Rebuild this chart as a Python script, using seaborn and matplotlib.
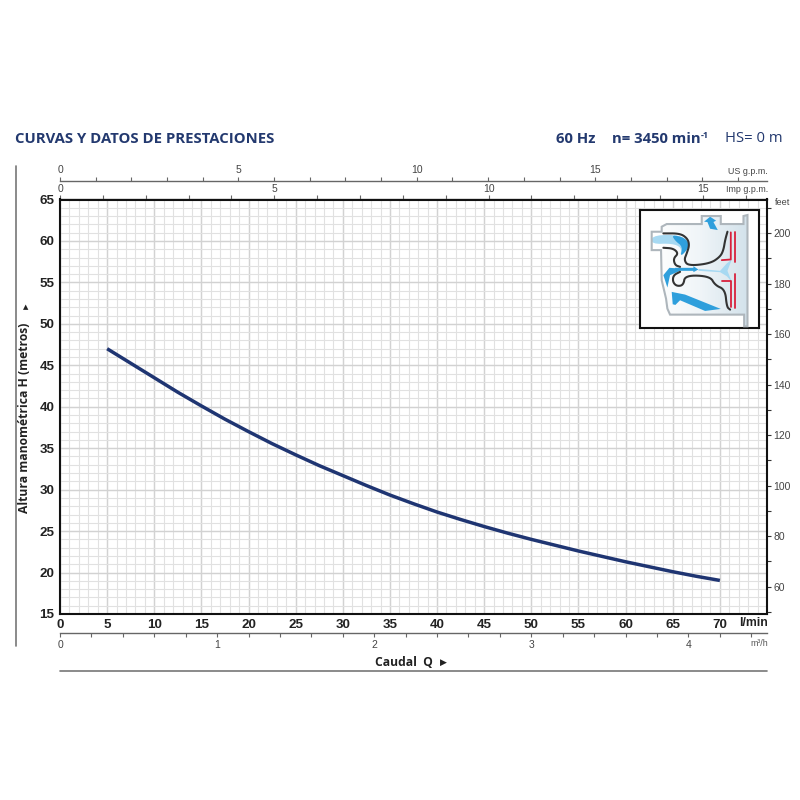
import matplotlib
matplotlib.use("Agg")
import numpy as np
import pandas as pd
import seaborn as sns
import matplotlib.pyplot as plt
from matplotlib.patches import Polygon
from matplotlib.ticker import MultipleLocator

# ---- data
caudal_lmin = [5, 7.5, 10, 12.5, 15, 17.5, 20, 22.5, 25, 27.5, 30, 32.5, 35, 37.5, 40, 42.5, 45, 47.5, 50, 52.5, 55, 57.5, 60, 62.5, 65, 67.5, 70]
altura_m = [47.0, 45.25, 43.5, 41.75, 40.1, 38.5, 37.0, 35.55, 34.2, 32.9, 31.7, 30.5, 29.35, 28.3, 27.3, 26.4, 25.55, 24.75, 24.0, 23.3, 22.6, 21.95, 21.3, 20.7, 20.1, 19.55, 19.05]
x_ticks = list(range(0, 75, 5))
y_ticks = list(range(15, 70, 5))
us_gpm_labels = [0, 5, 10, 15]
imp_gpm_labels = [0, 5, 10, 15]
m3h_labels = [0, 1, 2, 3, 4]
feet_labels = list(range(60, 220, 20))

NAVY = "#1f3572"
TITLE = "#23396f"
GREY = "#666666"
NARROW = ["Liberation Sans", "DejaVu Sans"]
HUM = ["Open Sans", "DejaVu Sans"]

sns.set_theme(style="white")
plt.rcParams["font.family"] = NARROW

fig = plt.figure(figsize=(8, 8), dpi=100, facecolor="white")
def fx(p): return p / 800
def fy(p): return 1 - p / 800

L, R, T, B = 60, 767, 199.5, 614
ax = fig.add_axes([fx(L), fy(B), fx(R - L), (B - T) / 800])
df = pd.DataFrame({"q": caudal_lmin, "h": altura_m})
sns.lineplot(data=df, x="q", y="h", ax=ax, color=NAVY, lw=2.5, solid_capstyle="butt", zorder=5)

ax.set_xlim(0, 75)
ax.set_ylim(15, 65)
ax.set_xlabel("")
ax.set_ylabel("")
ax.set_xticks(x_ticks)
ax.set_yticks(y_ticks)
ax.xaxis.set_minor_locator(MultipleLocator(1))
ax.yaxis.set_minor_locator(MultipleLocator(1))
ax.set_axisbelow(True)
ax.grid(which="minor", color="#e1e1e1", lw=0.8)
ax.grid(which="major", color="#d2d2d2", lw=1.05)
ax.tick_params(which="both", length=0)
ax.tick_params(axis="x", pad=3.5, labelsize=9.6, labelcolor="#222222")
ax.tick_params(axis="y", pad=4, labelsize=9.6, labelcolor="#222222")
for t in ax.get_xticklabels() + ax.get_yticklabels():
    t.set_fontweight("bold")
for s in ax.spines.values():
    s.set_color("#111111")
    s.set_linewidth(1.5)

# secondary flow scales, above and below the plot
us = ax.secondary_xaxis((B - 180.7) / (B - T), functions=(lambda v: v / 3.785, lambda v: v * 3.785))
imp = ax.secondary_xaxis("top", functions=(lambda v: v / 4.546, lambda v: v * 4.546))
m3h = ax.secondary_xaxis((B - 633) / (B - T), functions=(lambda v: v * 0.06, lambda v: v / 0.06))

us.set_xticks(np.arange(0, 20), labels=[str(i) if i in us_gpm_labels else "" for i in range(20)])
imp.set_xticks(np.arange(0, 17), labels=[str(i) if i in imp_gpm_labels else "" for i in range(17)])
m3h_pos = np.arange(0, 23) * 0.2
m3h.set_xticks(m3h_pos, labels=[str(int(round(v))) if abs(v - round(v)) < 1e-6 and int(round(v)) in m3h_labels else "" for v in m3h_pos])

for sec, pad in ((us, 1.0), (imp, 1.0), (m3h, 2.0)):
    sec.tick_params(axis="x", length=3, width=0.8, color=GREY, labelsize=7.5, labelcolor="#444444", pad=pad)
    for s in sec.spines.values():
        s.set_color(GREY)
        s.set_linewidth(1.0)

# feet axis, right
ft = ax.secondary_yaxis("right", functions=(lambda v: v * 3.28084, lambda v: v / 3.28084))
ft_pos = np.arange(50, 220, 10)
ft.set_yticks(ft_pos, labels=[str(v) if v in feet_labels else "" for v in ft_pos])
ft.tick_params(axis="y", length=3, width=0.8, color="#333333", labelsize=7.5, labelcolor="#444444", pad=1.5)
ft.spines["right"].set_visible(False)

# ---- header text
fig.text(fx(15), fy(139), "CURVAS Y DATOS DE PRESTACIONES", family=HUM, weight="bold", size=10.7, color=TITLE, va="center", ha="left")
fig.text(fx(556), fy(139), "60 Hz", family=HUM, weight="bold", size=10.7, color=TITLE, va="center", ha="left")
fig.text(fx(612), fy(139), "n= 3450 min", family=HUM, weight="bold", size=10.7, color=TITLE, va="center", ha="left")
fig.text(fx(701), fy(135.5), "-1", family=HUM, weight="bold", size=6.5, color=TITLE, va="center", ha="left")
fig.text(fx(725), fy(139), "HS= 0 m", family=HUM, size=10.7, color=TITLE, va="center", ha="left")

# ---- unit labels
fig.text(fx(768), fy(171), "US g.p.m.", size=6.4, color="#444444", ha="right", va="center")
fig.text(fx(768), fy(190), "Imp g.p.m.", size=6.4, color="#444444", ha="right", va="center")
fig.text(fx(775), fy(203), "feet", size=6.6, color="#444444", ha="left", va="center")
fig.text(fx(768), fy(623), "l/min", size=8.8, weight="bold", color="#222222", ha="right", va="center")
fig.text(fx(768), fy(644), "m\u00b3/h", size=6.4, color="#555555", ha="right", va="center")

# ---- axis titles
fig.text(fx(25), fy(418), "Altura manom\u00e9trica H (metros)", family=HUM, weight="bold", size=8.7,
         color="#222222", rotation=90, ha="center", va="center")
fig.text(fx(25.5), fy(307), "\u25b2", family="DejaVu Sans", size=5, color="#222222", ha="center", va="center")
fig.text(fx(404), fy(662), "Caudal  Q", family=HUM, weight="bold", size=8.7, color="#222222", ha="center", va="center")
fig.text(fx(443), fy(662), "\u25b6", family="DejaVu Sans", size=6.5, color="#222222", ha="center", va="center")

# ---- frame rules
fig.add_artist(plt.Line2D([fx(16), fx(16)], [fy(166), fy(646)], color="#777777", lw=1.2))
fig.add_artist(plt.Line2D([fx(60), fx(767)], [fy(671), fy(671)], color="#777777", lw=1.2))

# ---- pump illustration (sketch coordinates)
def smooth(pts, closed=False, n=3):
    a = np.array(pts, float)
    for _ in range(n):
        if closed:
            b = np.roll(a, -1, axis=0)
            a = np.column_stack([0.75 * a + 0.25 * b, 0.25 * a + 0.75 * b]).reshape(-1, 2)
        else:
            m = np.column_stack([0.75 * a[:-1] + 0.25 * a[1:], 0.25 * a[:-1] + 0.75 * a[1:]]).reshape(-1, 2)
            a = np.vstack([a[0], m, a[-1]])
    return a

box = fig.add_axes([fx(640), fy(328), fx(118.5), 118 / 800], zorder=10)
box.set_facecolor("white")
box.set_xticks([]); box.set_yticks([]); box.grid(False)
for s in box.spines.values():
    s.set_color("#111111"); s.set_linewidth(1.5)

shell = [(95, 95), (95, 80), (110, 72), (215, 72), (215, 48), (272, 48), (272, 72), (340, 72),
         (340, 48), (352, 45), (352, 378), (342, 378), (342, 343), (120, 343), (112, 325),
         (108, 295), (95, 240), (93, 150), (65, 150), (65, 95)]
grad = np.linspace(0, 1, 200).reshape(1, -1)
cmap = matplotlib.colors.LinearSegmentedColormap.from_list("b", ["#ffffff", "#f0f5f8", "#d3e2eb"])
im = box.imshow(grad, extent=(65, 352, 383, 45), cmap=cmap, aspect="auto", zorder=1)
im.set_clip_path(Polygon(shell, closed=True, transform=box.transData))
box.add_patch(Polygon(shell, closed=True, fc="none", ec="#aeb6bc", lw=1.5, zorder=3))
box.set_xlim(30, 385)
box.set_ylim(383, 30)

BLUE = "#2f9fdc"
LIGHT = "#a7d9f2"
flows = [
    ([(65, 108), (125, 103), (165, 113), (180, 138), (150, 172), (155, 142), (125, 130), (65, 132)], LIGHT, True),
    ([(125, 104), (165, 113), (180, 138), (150, 172), (158, 140), (135, 122)], BLUE, True),
    ([(135, 203), (190, 203), (190, 198), (205, 208), (190, 216), (190, 212), (135, 212)], BLUE, False),
    ([(205, 206), (270, 212), (290, 190), (305, 178), (292, 212), (305, 245), (290, 228), (270, 216), (205, 212)], LIGHT, False),
    ([(150, 205), (118, 203), (100, 225), (112, 262), (120, 225), (150, 212)], BLUE, False),
    ([(128, 312), (125, 275), (165, 283), (272, 326), (225, 332), (150, 300), (136, 314)], BLUE, False),
    ([(222, 65), (240, 50), (258, 62), (250, 66), (263, 90), (240, 86), (232, 66)], BLUE, False),
]
for pts, c, soft in flows:
    verts = smooth(pts, closed=True, n=2) if soft else pts
    box.add_patch(Polygon(verts, closed=True, fc=c, ec="none", zorder=2))

dark = [
    [(100, 100), (150, 100), (172, 115), (178, 135), (170, 160), (162, 180), (175, 197), (240, 190), (270, 170), (280, 150), (285, 120), (292, 95)],
    [(100, 143), (130, 145), (145, 160), (130, 175), (135, 195), (150, 200)],
    [(150, 215), (130, 225), (128, 245), (140, 258), (160, 255), (165, 225), (240, 228), (255, 255), (285, 268), (290, 320), (300, 328)],
]
for pts in dark:
    a = smooth(pts)
    box.plot(a[:, 0], a[:, 1], color="#333333", lw=1.5, zorder=4, solid_joinstyle="round")
red = [
    [(302, 97), (302, 178), (275, 180)],
    [(315, 97), (315, 185)],
    [(275, 243), (302, 243), (302, 320)],
    [(315, 220), (315, 322)],
]
for pts in red:
    a = np.array(pts)
    box.plot(a[:, 0], a[:, 1], color="#d8203c", lw=1.3, zorder=4)

fig.savefig("out.png", dpi=100, facecolor="white")
